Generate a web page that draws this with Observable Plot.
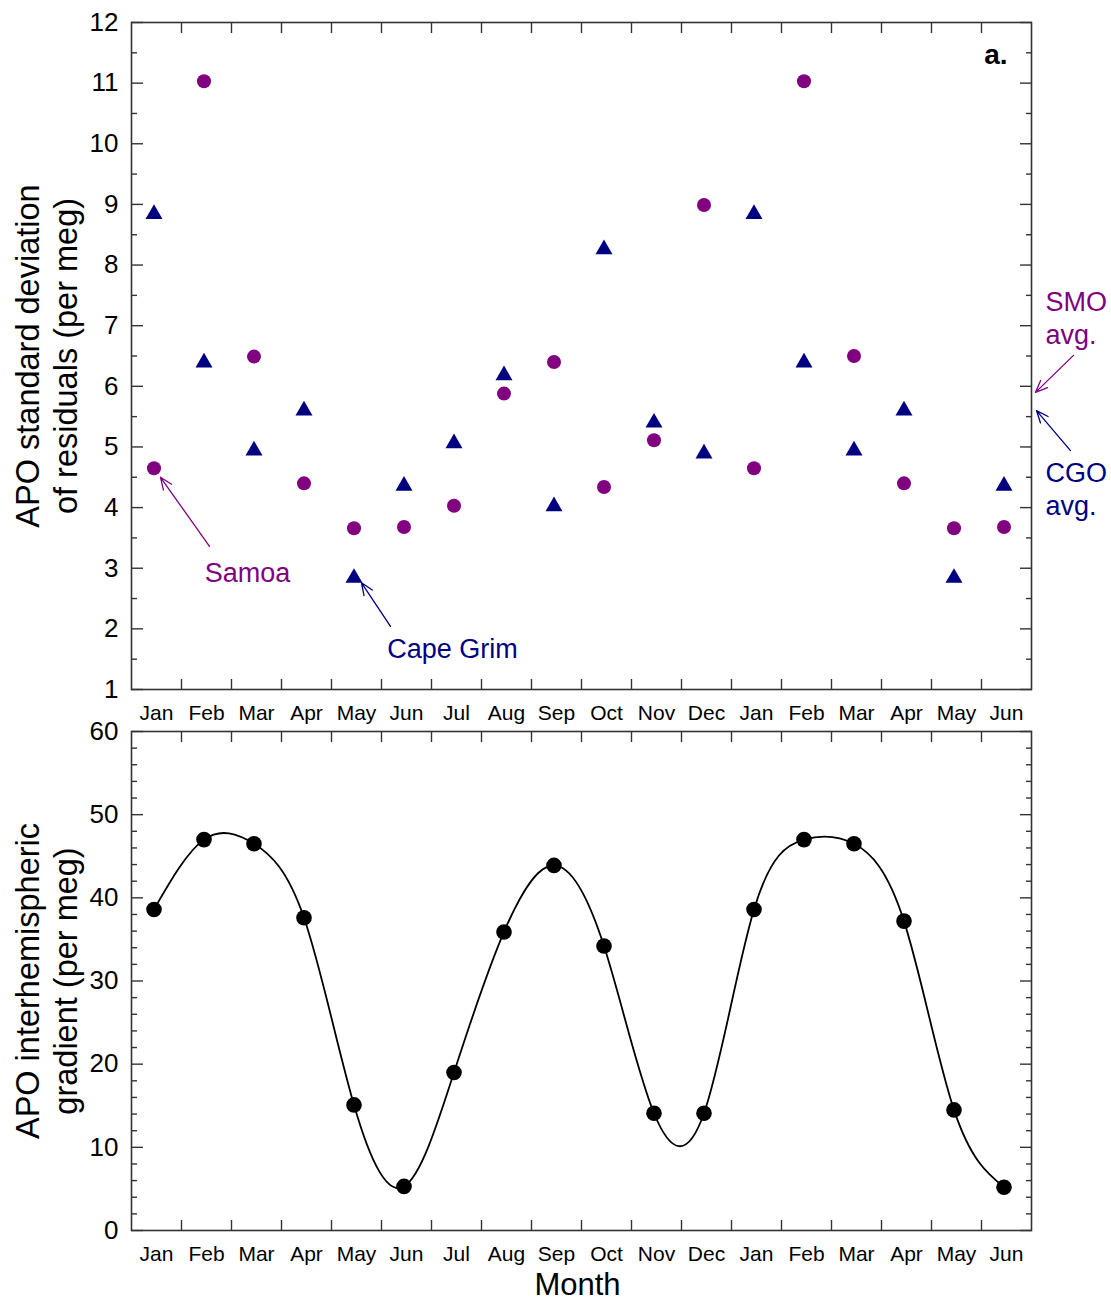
<!DOCTYPE html>
<html>
<head>
<meta charset="utf-8">
<script src="https://cdn.jsdelivr.net/npm/d3@7"></script>
<script src="https://cdn.jsdelivr.net/npm/@observablehq/plot@0.6"></script>
<style>
  body { margin: 0; background: #fff; font-family: Arial, "Liberation Sans", sans-serif; }
  #chart { position: relative; width: 1111px; height: 1301px; background: #fff; }
  #chart svg { position: absolute; left: 0; overflow: visible; }
</style>
</head>
<body>
<div id="chart"></div>
<script>
// ---- data ----
const months = ["Jan","Feb","Mar","Apr","May","Jun","Jul","Aug","Sep","Oct","Nov","Dec","Jan","Feb","Mar","Apr","May","Jun"];
const samoa    = [4.65, 11.03, 6.49, 4.40, 3.66, 3.68, 4.03, 5.88, 6.40, 4.34, 5.11, 8.99, 4.65, 11.03, 6.50, 4.40, 3.66, 3.68];
const capeGrim = [8.84, 6.39, 4.94, 5.60, 2.84, 4.36, 5.06, 6.18, 4.02, 8.26, 5.40, 4.89, 8.84, 6.39, 4.94, 5.60, 2.84, 4.36];
const gradient = [38.6, 47.0, 46.5, 37.6, 15.1, 5.3, 19.0, 35.9, 43.9, 34.2, 14.1, 14.1, 38.6, 47.0, 46.5, 37.2, 14.5, 5.2];

const topMajor = [1,2,3,4,5,6,7,8,9,10,11,12];
const topMinor = [1.5,2.5,3.5,4.5,5.5,6.5,7.5,8.5,9.5,10.5,11.5];
const botMajor = [0,10,20,30,40,50,60];
const botMinor = [2,4,6,8,12,14,16,18,22,24,26,28,32,34,36,38,42,44,46,48,52,54,56,58];

const topTitle = ["APO standard deviation", "of residuals (per meg)"];
const botTitle = ["APO interhemispheric", "gradient (per meg)"];
const xTitle = "Month";
const panelLabel = "a.";

// annotations (data coordinates: x = month index, y = value)
const topNotes = [
  {label: "Samoa",      x: 2.82,  y: 2.95, color: "#800080", anchor: "middle"},
  {label: "Cape Grim",  x: 6.92,  y: 1.69, color: "#000080", anchor: "middle"},
  {label: "SMO\navg.",  x: 18.78, y: 7.14, color: "#800080", anchor: "start"},
  {label: "CGO\navg.",  x: 18.78, y: 4.33, color: "#000080", anchor: "start"}
];
const topArrows = [
  {x1: 2.06,  y1: 3.36, x2: 1.08,  y2: 4.50, color: "#800080"},
  {x1: 5.68,  y1: 2.04, x2: 5.10,  y2: 2.76, color: "#000080"},
  {x1: 19.34, y1: 6.51, x2: 18.58, y2: 5.90, color: "#800080"},
  {x1: 19.28, y1: 4.94, x2: 18.60, y2: 5.60, color: "#000080"}
];

// ---- build ----
const monthIdx = months.map((m, i) => i + 1);
const boundaries = monthIdx.slice(0, -1).map(i => i + 0.5);
const samoaData = samoa.map((v, i) => ({x: i + 1, y: v}));
const cgoData = capeGrim.map((v, i) => ({x: i + 1, y: v}));
const gradData = gradient.map((v, i) => ({x: i + 1, y: v}));

const FONT = "Arial, 'Liberation Sans', sans-serif";
const AX = "#333";
const intFmt = d3.format("d");

function frameTicks(yMajor, yMinor) {
  const s = {stroke: AX, strokeWidth: 1.4, tickFormat: () => "", label: null};
  return [
    Plot.axisX(boundaries, {anchor: "bottom", tickSize: -10, ...s}),
    Plot.axisX(boundaries, {anchor: "top", tickSize: -10, ...s}),
    Plot.axisY(yMajor, {anchor: "left", tickSize: -12, ...s}),
    Plot.axisY(yMinor, {anchor: "left", tickSize: -6, ...s}),
    Plot.axisY(yMajor, {anchor: "right", tickSize: -12, ...s}),
    Plot.axisY(yMinor, {anchor: "right", tickSize: -6, ...s}),
    Plot.frame({stroke: AX, strokeWidth: 1.6})
  ];
}

function titleMarks(lines) {
  return [
    Plot.text([lines[0]], {text: d => d, frameAnchor: "left", dx: -103, rotate: -90, fontSize: 32.5, fill: "black", textAnchor: "middle", lineAnchor: "middle"}),
    Plot.text([lines[1]], {text: d => d, frameAnchor: "left", dx: -65, rotate: -90, fontSize: 32.5, fill: "black", textAnchor: "middle", lineAnchor: "middle"})
  ];
}

const common = {
  width: 1111,
  marginLeft: 131,
  marginRight: 80,
  style: {fontFamily: FONT, overflow: "visible", background: "transparent", color: "black"},
  x: {domain: [0.5, 18.5]}
};

const noteMarks = [];
for (const c of ["#800080", "#000080"]) {
  for (const a of ["middle", "start"]) {
    const sub = topNotes.filter(d => d.color === c && d.anchor === a);
    if (sub.length) noteMarks.push(Plot.text(sub, {x: "x", y: "y", text: "label", fill: c, textAnchor: a, fontSize: 27, lineHeight: 1.22}));
  }
  noteMarks.push(Plot.arrow(topArrows.filter(d => d.color === c), {
    x1: "x1", y1: "y1", x2: "x2", y2: "y2", stroke: c, strokeWidth: 1.3, headLength: 15, headAngle: 45
  }));
}

const p1 = Plot.plot({
  ...common,
  height: 728,
  marginTop: 22,
  marginBottom: 39,
  y: {domain: [1, 12]},
  marks: [
    ...frameTicks(topMajor, topMinor),
    Plot.axisX(monthIdx, {anchor: "bottom", tickSize: 0, tickPadding: 16, fontSize: 21, tickFormat: i => months[i - 1], label: null}),
    Plot.axisY(topMajor, {anchor: "left", tickSize: 0, tickPadding: 13, fontSize: 26, tickFormat: intFmt, label: null}),
    ...titleMarks(topTitle),
    Plot.text([panelLabel], {text: d => d, frameAnchor: "top-right", dx: -24, dy: 33, fontSize: 28, fontWeight: "bold", textAnchor: "end", lineAnchor: "middle"}),
    ...noteMarks,
    Plot.dot(samoaData, {x: "x", y: "y", r: 7, fill: "#800080", dx: -2.5}),
    Plot.dot(cgoData, {x: "x", y: "y", r: 6.3, symbol: "triangle", fill: "#000080", dx: -2.5})
  ]
});

const p2 = Plot.plot({
  ...common,
  height: 573,
  marginTop: 3,
  marginBottom: 71,
  y: {domain: [0, 60]},
  marks: [
    ...frameTicks(botMajor, botMinor),
    Plot.axisX(monthIdx, {anchor: "bottom", tickSize: 0, tickPadding: 16, fontSize: 21, tickFormat: i => months[i - 1], label: null}),
    Plot.axisY(botMajor, {anchor: "left", tickSize: 0, tickPadding: 13, fontSize: 26, tickFormat: intFmt, label: null}),
    ...titleMarks(botTitle),
    Plot.text([xTitle], {text: d => d, frameAnchor: "bottom", dx: -4, dy: 55, fontSize: 31, fill: "black", lineAnchor: "middle"}),
    Plot.line(gradData, {x: "x", y: "y", curve: "natural", stroke: "black", strokeWidth: 1.8, dx: -2.5}),
    Plot.dot(gradData, {x: "x", y: "y", r: 7.8, fill: "black", dx: -2.5})
  ]
});

p1.style.top = "0px";
p2.style.top = "728px";
const chart = document.getElementById("chart");
chart.appendChild(p1);
chart.appendChild(p2);
</script>
</body>
</html>
